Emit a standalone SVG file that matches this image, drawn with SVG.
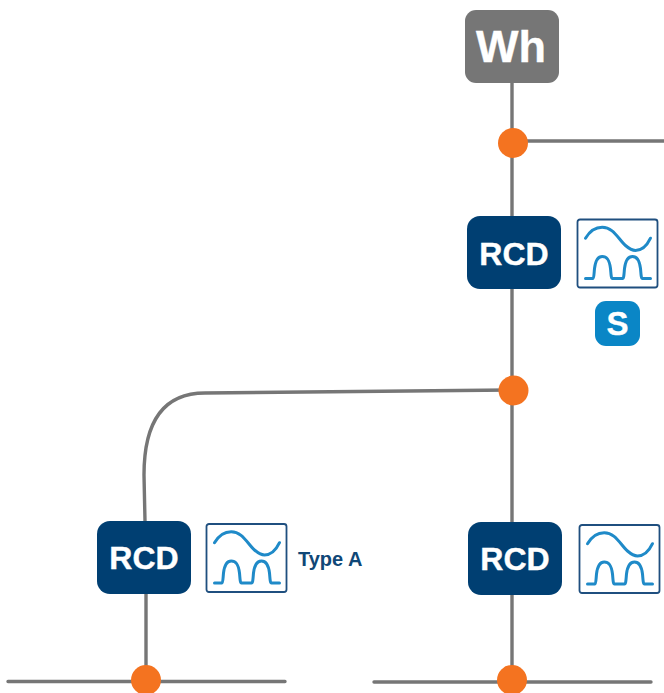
<svg xmlns="http://www.w3.org/2000/svg" width="664" height="693" viewBox="0 0 664 693">
<style>
.w{fill:none;stroke:#767676;stroke-width:3.4;stroke-linecap:round}
.d{fill:#f47320}
.b{fill:#003f72}
.t{font-family:"Liberation Sans",Arial,sans-serif;font-weight:700;fill:#fff;stroke:#fff;stroke-width:.4;text-anchor:middle}
.box{fill:#fff;stroke:#1f4f7f;stroke-width:1.8}
.sig{fill:none;stroke:#1f8ac8;stroke-width:3;stroke-linecap:round;stroke-linejoin:round}
</style>
<defs>
<g id="sigs">
<rect class="box" x="0" y="0" width="80" height="68" rx="2.500"/>
<path class="sig" d="M8 18.700C12 12 17 7.700 24.700 7.700C36 7.700 41 20 48 26C52 29.500 55 31 58 31C65 31 70 25 73 18.700"/>
<path class="sig" d="M8 59H15.500C16.500 59 16.500 54 17 49C18 41 20 37 24.700 37C30 37 32 41 33 49C33.500 54 33.500 59 35 59H45C46.500 59 46.500 54 47 49C48 41 50 37 55 37C60 37 62 41 63 49C63.500 54 63.500 59 65 59H73"/>
</g>
</defs>
<g id="connectors">
<path class="w" d="M512 82V216M512 288V391M512 141H664M512 391V522M512 594V680"/>
<path class="w" d="M513 390L205 393C165 393 144 420 144 475L145 521M146 593V680"/>
<path class="w" d="M8 681.500H285M374 682H651"/>
</g>
<g id="wh"><rect x="465" y="10" width="94" height="73" rx="11" fill="#767676"/><text class="t" x="511" y="62" font-size="45">Wh</text></g>
<g id="junction-1"><circle class="d" cx="513" cy="143" r="15"/></g>
<g id="rcd-1"><rect class="b" x="467" y="216" width="94" height="73" rx="13"/><text class="t" x="514" y="264.500" font-size="32">RCD</text></g>
<g id="icon-1"><use href="#sigs" x="577.500" y="219.500"/></g>
<g id="badge-s"><rect x="595" y="301" width="45" height="45" rx="11" fill="#0a86c6"/><text class="t" x="617.500" y="335" font-size="33">S</text></g>
<g id="junction-2"><circle class="d" cx="513.500" cy="390.500" r="15"/></g>
<g id="rcd-2"><rect class="b" x="97" y="521" width="94" height="73" rx="13"/><text class="t" x="144" y="568.500" font-size="32">RCD</text></g>
<g id="icon-2"><use href="#sigs" x="206.500" y="524"/></g>
<text id="type-a" x="298" y="566" font-family="'Liberation Sans',Arial,sans-serif" font-weight="700" font-size="20" fill="#0f4777">Type A</text>
<g id="rcd-3"><rect class="b" x="468" y="522" width="94" height="73" rx="13"/><text class="t" x="515" y="569.500" font-size="32">RCD</text></g>
<g id="icon-3"><use href="#sigs" x="579.500" y="525"/></g>
<g id="junction-3"><circle class="d" cx="146" cy="680" r="15"/></g>
<g id="junction-4"><circle class="d" cx="512" cy="680" r="15"/></g>
</svg>
